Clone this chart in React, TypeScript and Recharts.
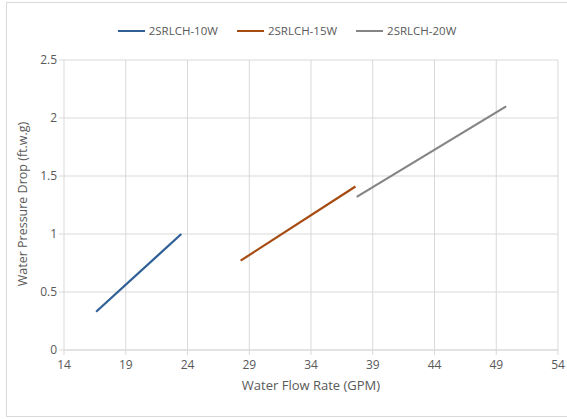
import React from 'react';
import { LineChart, Line, XAxis, YAxis, CartesianGrid, Label } from 'recharts';

const series10W = [
  { x: 16.6, y: 0.33 },
  { x: 23.5, y: 1.0 },
];
const series15W = [
  { x: 28.3, y: 0.77 },
  { x: 37.6, y: 1.41 },
];
const series20W = [
  { x: 37.7, y: 1.32 },
  { x: 49.8, y: 2.1 },
];
const seriesNames = ['2SRLCH-10W', '2SRLCH-15W', '2SRLCH-20W'];
const seriesColors = ['#2E6095', '#A64C12', '#858585'];
const xTicks = [14, 19, 24, 29, 34, 39, 44, 49, 54];
const yTicks = [0, 0.5, 1, 1.5, 2, 2.5];

const FONT = '"Open Sans", "Noto Sans", sans-serif';
const TEXT = '#595959';
const GRID = '#d9d9d9';

const LegendBox = () => (
  <div
    style={{
      position: 'absolute',
      left: 7,
      top: 23,
      width: 560,
      display: 'flex',
      justifyContent: 'center',
      fontFamily: FONT,
      fontSize: 11.5,
      color: TEXT,
      lineHeight: '16px',
    }}
  >
    {seriesNames.map((n, i) => (
      <div key={n} style={{ display: 'flex', alignItems: 'center', margin: '0 9.5px' }}>
        <div style={{ width: 27, height: 2.5, background: seriesColors[i], marginRight: 4 }} />
        <span>{n}</span>
      </div>
    ))}
  </div>
);

export default function App() {
  const allData = [series10W, series15W, series20W];
  return (
    <div style={{ position: 'absolute', left: 0, top: 0, width: 567, height: 419, background: '#fff' }}>
      <div style={{ position: 'absolute', left: 6, top: 2, width: 570, height: 415, border: `1px solid ${GRID}`, boxSizing: 'border-box' }} />
      <div style={{ position: 'absolute', left: 0, top: 0 }}>
        <LineChart width={567} height={419} margin={{ top: 60, right: 9, bottom: 26, left: 0 }}>
          <CartesianGrid stroke={GRID} strokeWidth={1} />
          <XAxis
            type="number"
            dataKey="x"
            domain={[14, 54]}
            ticks={xTicks}
            allowDataOverflow
            stroke={GRID}
            tickLine={{ stroke: GRID }}
            tickSize={5}
            tick={{ fill: TEXT, fontSize: 12, fontFamily: FONT, dy: 3 }}
            height={43}
          >
            <Label value="Water Flow Rate (GPM)" position="insideBottom" offset={3} style={{ fill: TEXT, fontSize: 13, fontFamily: FONT }} />
          </XAxis>
          <YAxis
            type="number"
            dataKey="y"
            domain={[0, 2.5]}
            ticks={yTicks}
            width={64}
            axisLine={false}
            tickLine={{ stroke: GRID }}
            tickSize={5}
            tick={{ fill: TEXT, fontSize: 12, fontFamily: FONT }}
          >
            <Label
              content={() => (
                <text
                  x={24}
                  y={204}
                  transform="rotate(-90 24 204)"
                  textAnchor="middle"
                  dominantBaseline="middle"
                  style={{ fill: TEXT, fontSize: 12.5, fontFamily: FONT }}
                >
                  Water Pressure Drop (ft.w.g)
                </text>
              )}
            />
          </YAxis>
          {allData.map((d, i) => (
            <Line
              key={seriesNames[i]}
              data={d}
              dataKey="y"
              name={seriesNames[i]}
              stroke={seriesColors[i]}
              strokeWidth={2.25}
              dot={false}
              activeDot={false}
              isAnimationActive={false}
            />
          ))}
        </LineChart>
      </div>
      <LegendBox />
    </div>
  );
}
